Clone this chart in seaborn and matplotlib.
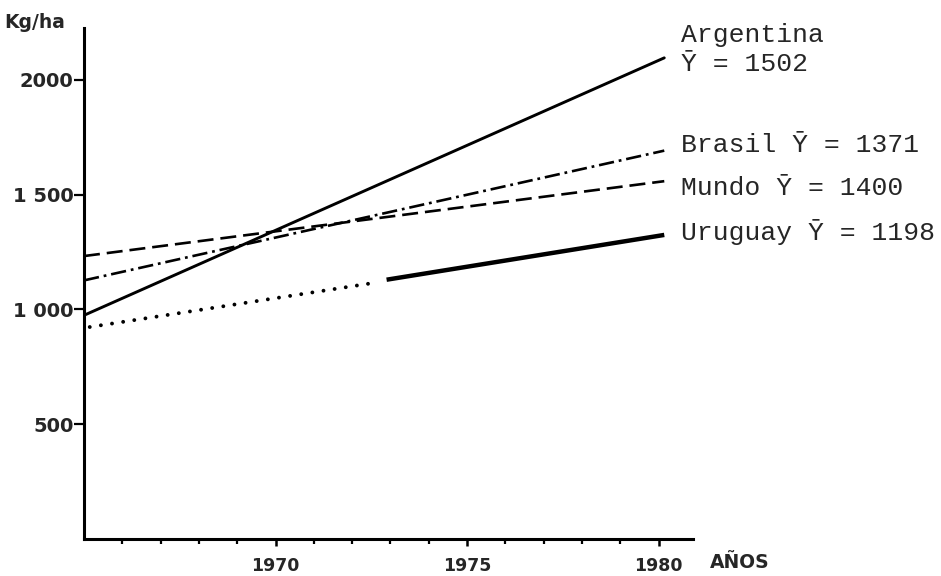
import matplotlib
matplotlib.use("Agg")
import matplotlib.pyplot as plt
import seaborn as sns
import pandas as pd

# ---- data ----
arg_years = [1965.0, 1980.15]
arg_vals = [974, 2095]
bra_years = [1965.0, 1980.15]
bra_vals = [1126, 1691]
mun_years = [1965.0, 1980.15]
mun_vals = [1232, 1558]
uru_est_years = [1965.15, 1972.6]
uru_est_vals = [923, 1116]
uru_obs_years = [1972.9, 1980.15]
uru_obs_vals = [1129, 1324]

labels = {
    "Argentina": "Argentina\n\u0232 = 1502",
    "Brasil": "Brasil \u0232 = 1371",
    "Mundo": "Mundo \u0232 = 1400",
    "Uruguay": "Uruguay \u0232 = 1198",
}
ytick_vals = [500, 1000, 1500, 2000]
ytick_labels = ["500", "1 000", "1 500", "2000"]
xmajor = [1970, 1975, 1980]
xminor = [y for y in range(1966, 1980) if y not in xmajor]

sns.set_style("white")
plt.rcParams["lines.scale_dashes"] = False
plt.rcParams["font.family"] = ["DejaVu Sans"]

fig = plt.figure(figsize=(9.41, 5.76), dpi=100)
W, H = 941, 576
ax = fig.add_axes([84 / W, 1 - 539 / H, (693 - 84) / W, (539 - 28) / H])

def draw(xs, ys, **kw):
    df = pd.DataFrame({"x": xs, "y": ys})
    sns.lineplot(data=df, x="x", y="y", ax=ax, color="black", **kw)

draw(arg_years, arg_vals, linewidth=2.1, linestyle="-")
draw(bra_years, bra_vals, linewidth=1.9, linestyle=(0, (11, 3.5, 2.0, 3.5)))
draw(mun_years, mun_vals, linewidth=1.9, linestyle=(0, (11.5, 5.0)))
draw(uru_est_years, uru_est_vals, linewidth=2.8, linestyle=(0, (0.01, 8.1)),
     dash_capstyle="round")
draw(uru_obs_years, uru_obs_vals, linewidth=3.2, linestyle="-", solid_capstyle="butt")

ax.set_xlim(1965, 1980.9)
ax.set_ylim(0, 2225)
ax.set_xlabel("")
ax.set_ylabel("")

for s in ["top", "right"]:
    ax.spines[s].set_visible(False)
for s in ["left", "bottom"]:
    ax.spines[s].set_linewidth(2.2)
    ax.spines[s].set_color("black")

ax.set_yticks(ytick_vals)
ax.set_yticklabels(ytick_labels, fontsize=14, fontweight="bold")
ax.tick_params(axis="y", which="major", direction="out", length=7, width=1.6,
               pad=0.5, color="black", left=True)
ax.set_xticks(xmajor)
ax.set_xticklabels([str(y) for y in xmajor], fontsize=12.5, fontweight="bold")
ax.set_xticks(xminor, minor=True)
ax.tick_params(axis="x", which="major", direction="out", length=5, width=1.8,
               pad=8, color="black", bottom=True)
ax.tick_params(axis="x", which="minor", direction="out", length=3.5, width=1.6,
               color="black", bottom=True)

fig.text(4 / W, 1 - 23 / H, "Kg/ha", fontsize=13.5, fontweight="bold",
         ha="left", va="center")
fig.text(710 / W, 1 - 563 / H, "A\u00d1OS", fontsize=13.5, fontweight="bold",
         ha="left", va="center")

mono = ["Liberation Mono", "DejaVu Sans Mono"]
ends = {
    "Argentina": (arg_years[-1], arg_vals[-1], 12, 6),
    "Brasil": (bra_years[-1], bra_vals[-1], 12, 4),
    "Mundo": (mun_years[-1], mun_vals[-1], 12, -5),
    "Uruguay": (uru_obs_years[-1], uru_obs_vals[-1], 12, 2),
}
for k, (xe, ye, dx, dy) in ends.items():
    ax.annotate(labels[k], xy=(xe, ye), xytext=(dx, dy), textcoords="offset points",
                ha="left", va="center", fontsize=19, family=mono,
                linespacing=1.3, annotation_clip=False)

fig.savefig("out.png", dpi=100)
